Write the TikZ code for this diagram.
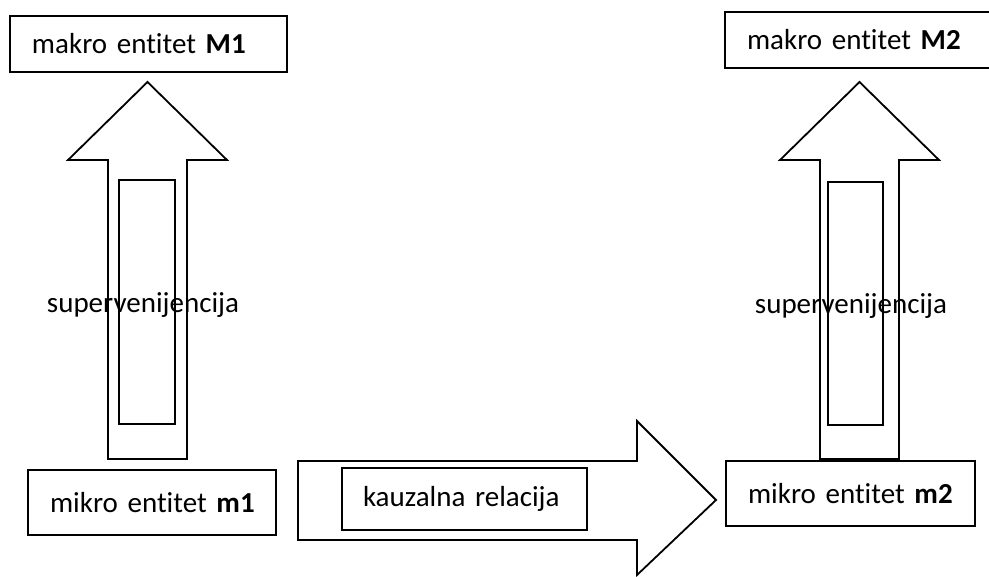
\documentclass[tikz,border=0pt]{standalone}
\usepackage{fontspec}
\setmainfont{Carlito}[Ligatures={NoCommon}]
\begin{document}
\begin{tikzpicture}[x=0.5pt,y=-0.5pt,line width=0.9pt,
  entity/.style={draw,rectangle,inner xsep=11pt,inner ysep=0pt,align=left,
    font=\fontsize{14.5}{17}\selectfont},
  txt/.style={inner sep=0pt,font=\fontsize{14.5}{17}\selectfont}]
\useasboundingbox (0,0) rectangle (989,577);

% block arrows
\draw (108,459) -- (108,160) -- (68,160) -- (147.5,82) -- (227,160) -- (187,160) -- (187,459) -- cycle;
\draw (119,180) rectangle (175,424);

\draw (820,459) -- (820,160) -- (780,160) -- (859.5,82) -- (939,160) -- (899,160) -- (899,459) -- cycle;
\draw (828,182) rectangle (883,425);

\draw (298,461) -- (637,461) -- (637,421) -- (716,500) -- (637,575) -- (637,540) -- (298,540) -- cycle;

% entities
\node[entity,text width=116.5pt,minimum height=28pt] (M1) at (148.5,44) {\mbox{makro entitet \textbf{M1}}};
\node[entity,text width=116.5pt,minimum height=28pt] (M2) at (863.5,40) {\mbox{makro entitet \textbf{M2}}};
\node[entity,text width=102pt,minimum height=32.5pt] (m1) at (152,502.5) {\mbox{mikro entitet \textbf{m1}}};
\node[entity,text width=102.5pt,minimum height=32.5pt] (m2) at (850.5,493.5) {\mbox{mikro entitet \textbf{m2}}};
\node[entity,inner xsep=10.5pt,text width=101.5pt,minimum height=31pt] (kauz) at (464.5,499) {\mbox{kauzalna relacija}};

\node[txt] (sup1) at (143,305) {supervenijencija};
\node[txt] (sup2) at (851,306) {supervenijencija};
\end{tikzpicture}
\end{document}
